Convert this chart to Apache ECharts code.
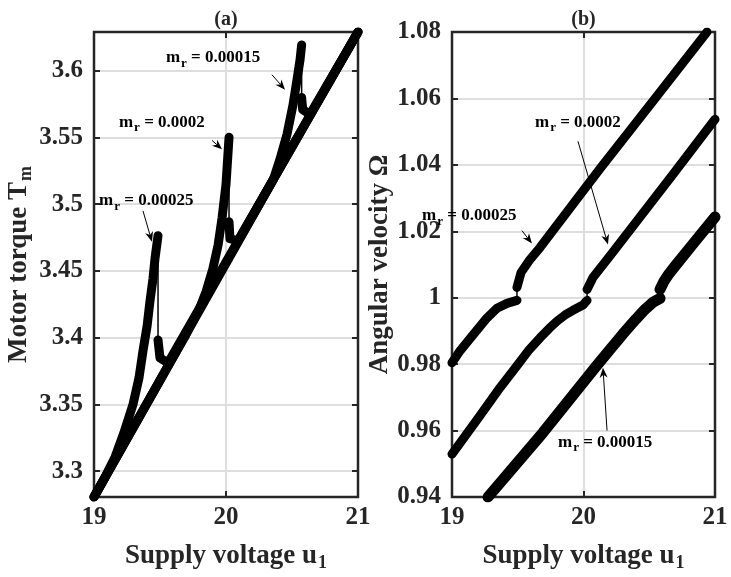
<!DOCTYPE html>
<html>
<head>
<meta charset="utf-8">
<script src="https://cdn.jsdelivr.net/npm/echarts@6/dist/echarts.min.js"></script>
<style>
  html, body { margin: 0; padding: 0; background: #fff; }
  #main { width: 731px; height: 577px; }
</style>
</head>
<body>
<div id="main"></div>
<script>
var F = '"Liberation Serif", "Times New Roman", serif';
var INK = '#262626';

// tick labels
var voltageTicks = [19, 20, 21];
var torqueTicks = [3.3, 3.35, 3.4, 3.45, 3.5, 3.55, 3.6];
var omegaTicks = [0.94, 0.96, 0.98, 1, 1.02, 1.04, 1.06, 1.08];

// (a) motor torque vs supply voltage, [u1, Tm]
var torqueRise25 = [[19, 3.2806], [19.083, 3.2954], [19.159, 3.3103], [19.227, 3.3289], [19.295, 3.3498],
  [19.341, 3.3699], [19.371, 3.39], [19.402, 3.4086], [19.424, 3.4272], [19.447, 3.4443], [19.462, 3.4592], [19.485, 3.4764]];
var torqueDrop25 = [[19.485, 3.4764], [19.485, 3.3982]];
var torqueAfter25 = [[19.485, 3.3982], [19.5, 3.3848], [19.561, 3.381], [21, 3.629]];

var torqueRise20 = [[19, 3.2806], [19.682, 3.3997], [19.8, 3.422], [19.85, 3.4347], [19.9, 3.4514], [19.94, 3.4693],
  [19.97, 3.4896], [20, 3.5148], [20.023, 3.5501]];
var torqueDrop20 = [[20.023, 3.5501], [20.023, 3.4868]];
var torqueAfter20 = [[20.023, 3.4868], [20.03, 3.4741], [20.091, 3.4726], [21, 3.629]];

var torqueRise15 = [[19, 3.2806], [20.333, 3.514], [20.36, 3.5188], [20.409, 3.5337], [20.462, 3.5523], [20.508, 3.5746],
  [20.538, 3.5933], [20.561, 3.6082], [20.573, 3.6193]];
var torqueDrop15 = [[20.573, 3.6193], [20.573, 3.5799]];
var torqueAfter15 = [[20.573, 3.5799], [20.581, 3.5709], [20.636, 3.5672], [21, 3.629]];

// (b) angular velocity vs supply voltage, [u1, Omega]
var omegaPre25 = [[19, 0.9804], [19.061, 0.984], [19.16, 0.9888], [19.266, 0.9939], [19.342, 0.9968], [19.418, 0.9983], [19.494, 0.9992]];
var omegaJump25 = [[19.494, 0.9992], [19.494, 1.0031]];
var omegaPost25 = [[19.494, 1.0031], [19.525, 1.0076], [19.593, 1.0115], [19.669, 1.0151], [20.125, 1.0388], [20.544, 1.06], [20.939, 1.08]];

var omegaPre20 = [[19, 0.9529], [19.213, 0.9645], [19.365, 0.9729], [19.494, 0.9795], [19.58, 0.984], [19.669, 0.9879],
  [19.74, 0.9908], [19.8, 0.993], [19.86, 0.9948], [19.92, 0.9962], [19.996, 0.9978], [20.027, 0.9992]];
var omegaJump20 = [[20.027, 0.9992], [20.027, 1.0025]];
var omegaPost20 = [[20.027, 1.0025], [20.072, 1.0061], [20.205, 1.0128], [20.681, 1.0372], [21, 1.0537]];

var omegaPre15 = [[19.274, 0.94], [19.692, 0.9594], [20.087, 0.9789], [20.2, 0.9843], [20.3, 0.9891], [20.4, 0.9936],
  [20.47, 0.9966], [20.53, 0.9987], [20.582, 0.9998]];
var omegaJump15 = [[20.582, 0.9998], [20.582, 1.0025]];
var omegaPost15 = [[20.582, 1.0025], [20.61, 1.0048], [20.65, 1.0072], [20.7, 1.0097], [20.833, 1.0162], [21, 1.0243]];

// annotations: label anchor and arrow (tail -> head), in data units
var notes = [
  { g: 0, label: '0.00025', at: [19.038, 3.5024], from: [19.371, 3.495], to: [19.439, 3.4719] },
  { g: 0, label: '0.0002', at: [19.189, 3.5612], from: [19.894, 3.5478], to: [19.97, 3.5411] },
  { g: 0, label: '0.00015', at: [19.545, 3.6096], from: [20.348, 3.597], to: [20.447, 3.5858] },
  { g: 1, label: '0.00025', at: [18.772, 1.0247], from: [19.532, 1.0202], to: [19.608, 1.0163] },
  { g: 1, label: '0.0002', at: [19.631, 1.0528], from: [19.958, 1.0471], to: [20.186, 1.016] },
  { g: 1, label: '0.00015', at: [19.806, 0.9565], from: [20.179, 0.96], to: [20.148, 0.9789] }
];

var chart = echarts.init(document.getElementById('main'), null, { renderer: 'canvas' });

var nameRich = {
  a: { fontFamily: F, fontWeight: 'bold', fontSize: 27, color: INK },
  s: { fontFamily: F, fontWeight: 'bold', fontSize: 18, color: INK, verticalAlign: 'bottom', padding: [14, 0, 0, 1] }
};
var tickLine = { color: INK, width: 2 };
var gridLine = { color: '#dedede', width: 2 };

function tickLabel(values, margin) {
  return { customValues: values, margin: margin, color: INK, fontFamily: F, fontWeight: 'bold', fontSize: 25 };
}

function bottomAxis(g) {
  return {
    type: 'value', gridIndex: g, min: 19, max: 21, position: 'bottom',
    axisLine: { show: false },
    axisTick: { customValues: [20], inside: true, length: 6, lineStyle: tickLine },
    axisLabel: tickLabel(voltageTicks, 8),
    splitLine: { show: true, lineStyle: gridLine },
    name: '{a|Supply voltage u}{s|1}', nameLocation: 'middle', nameGap: 43,
    nameTextStyle: { rich: nameRich }
  };
}
function topAxis(g) {
  return {
    type: 'value', gridIndex: g, min: 19, max: 21, position: 'top',
    axisLine: { show: false }, axisLabel: { show: false }, splitLine: { show: false },
    axisTick: { customValues: [20], inside: true, length: 6, lineStyle: tickLine }
  };
}
function leftAxis(g, lo, hi, labels, ticks, name) {
  return {
    type: 'value', gridIndex: g, min: lo, max: hi, position: 'left',
    axisLine: { show: false },
    axisTick: { customValues: ticks, inside: true, length: 6, lineStyle: tickLine },
    axisLabel: tickLabel(labels, 11),
    splitLine: { show: true, lineStyle: gridLine },
    name: name, nameLocation: 'middle', nameGap: 56, nameRotate: 90,
    nameTextStyle: { rich: nameRich }
  };
}
function rightAxis(g, lo, hi, ticks) {
  return {
    type: 'value', gridIndex: g, min: lo, max: hi, position: 'right',
    axisLine: { show: false }, axisLabel: { show: false }, splitLine: { show: false },
    axisTick: { customValues: ticks, inside: true, length: 6, lineStyle: tickLine }
  };
}

function thick(data, g, w) {
  return {
    type: 'line', xAxisIndex: g, yAxisIndex: g, data: data, symbol: 'none', showSymbol: false,
    silent: true, animation: false, z: 3,
    lineStyle: { color: '#000', width: w, cap: 'round', join: 'round' }
  };
}
function thin(data, g) {
  return {
    type: 'line', xAxisIndex: g, yAxisIndex: g, data: data, symbol: 'none', showSymbol: false,
    silent: true, animation: false, z: 3,
    lineStyle: { color: '#000', width: 1.5 }
  };
}

var frame = { show: true, borderWidth: 2.5, borderColor: INK, backgroundColor: 'transparent' };
var omegaInner = omegaTicks.slice(1, omegaTicks.length - 1);

chart.setOption({
  animation: false,
  backgroundColor: '#fff',
  grid: [
    Object.assign({ left: 94, right: 373, top: 32, bottom: 77 }, frame),
    Object.assign({ left: 452, right: 16, top: 32, bottom: 77 }, frame)
  ],
  xAxis: [bottomAxis(0), bottomAxis(1), topAxis(0), topAxis(1)],
  yAxis: [
    leftAxis(0, 3.2806, 3.629, torqueTicks, torqueTicks, '{a|Motor torque T}{s|m}'),
    leftAxis(1, 0.94, 1.08, omegaTicks, omegaInner, '{a|Angular velocity Ω}'),
    rightAxis(0, 3.2806, 3.629, torqueTicks),
    rightAxis(1, 0.94, 1.08, omegaInner)
  ],
  series: [
    thick(torqueRise25, 0, 9), thin(torqueDrop25, 0), thick(torqueAfter25, 0, 9),
    thick(torqueRise20, 0, 9), thin(torqueDrop20, 0), thick(torqueAfter20, 0, 9),
    thick(torqueRise15, 0, 9), thin(torqueDrop15, 0), thick(torqueAfter15, 0, 9),
    thick(omegaPre25, 1, 9), thin(omegaJump25, 1), thick(omegaPost25, 1, 9),
    thick(omegaPre20, 1, 9), thin(omegaJump20, 1), thick(omegaPost20, 1, 9),
    thick(omegaPre15, 1, 11), thin(omegaJump15, 1), thick(omegaPost15, 1, 11)
  ]
});

// annotations and panel titles drawn on top, placed through the axes
var noteRich = {
  m: { fontFamily: F, fontWeight: 'bold', fontSize: 17, fill: '#000' },
  r: { fontFamily: F, fontWeight: 'bold', fontSize: 13, fill: '#000', verticalAlign: 'bottom', padding: [11, 0, 0, 1] },
  t: { fontFamily: F, fontWeight: 'bold', fontSize: 17, fill: '#000' }
};

function arrow(a, b) {
  var dx = b[0] - a[0], dy = b[1] - a[1];
  var len = Math.sqrt(dx * dx + dy * dy);
  var ux = dx / len, uy = dy / len, nx = -uy, ny = ux;
  var h = 10, w = 4;
  var bx = b[0] - ux * h, by = b[1] - uy * h;
  var cx = b[0] - ux * (h - 3), cy = b[1] - uy * (h - 3);
  return [
    { type: 'line', z: 100, silent: true, shape: { x1: a[0], y1: a[1], x2: cx, y2: cy }, style: { stroke: '#000', lineWidth: 1 } },
    { type: 'polygon', z: 100, silent: true, shape: { points: [b, [bx + nx * w, by + ny * w], [cx, cy], [bx - nx * w, by - ny * w]] }, style: { fill: '#000' } }
  ];
}

var els = [];
notes.forEach(function (n) {
  var finder = { xAxisIndex: n.g, yAxisIndex: n.g };
  var p = chart.convertToPixel(finder, n.at);
  els.push({
    type: 'text', z: 100, silent: true, x: p[0], y: p[1],
    style: { text: '{m|m}{r|r}{t| = ' + n.label + '}', rich: noteRich, align: 'left', verticalAlign: 'middle' }
  });
  els = els.concat(arrow(chart.convertToPixel(finder, n.from), chart.convertToPixel(finder, n.to)));
});
['(a)', '(b)'].forEach(function (t, g) {
  var p = chart.convertToPixel({ xAxisIndex: g, yAxisIndex: g }, [20, g === 0 ? 3.629 : 1.08]);
  els.push({
    type: 'text', z: 100, silent: true, x: p[0], y: p[1] - 2,
    style: { text: t, fill: INK, font: 'bold 20px ' + F, align: 'center', verticalAlign: 'bottom' }
  });
});
chart.setOption({ graphic: els });
</script>
</body>
</html>
